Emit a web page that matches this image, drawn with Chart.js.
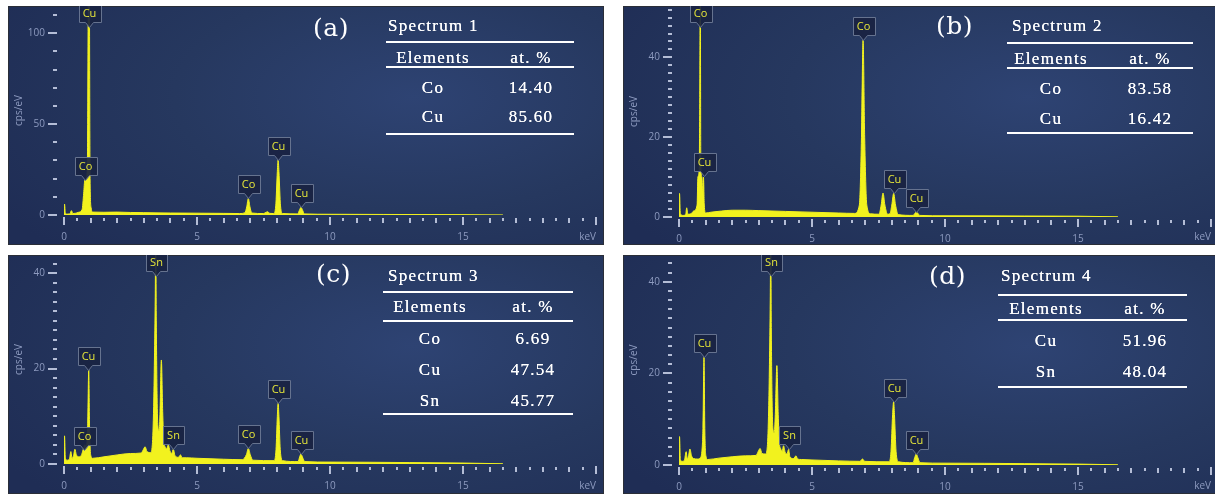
<!DOCTYPE html>
<html lang="en">
<head>
<meta charset="UTF-8">
<title>EDS spectra</title>
<script src="https://cdn.jsdelivr.net/npm/chart.js"></script>
<style>
    body {
        margin: 0;
        background: #ffffff;
        width: 1215px;
        height: 494px;
        overflow: hidden;
        position: relative;
    }

    .panel {
        position: absolute;
        width: 596px;
        height: 239px;
        overflow: hidden;
        background: radial-gradient(ellipse 80% 95% at 68% 38%, #2e4373 0%, #26385f 50%, #1f2d55 100%);
        box-shadow: inset 0 0 0 1px #2a2e38;
    }

    .panel canvas {
        position: absolute;
        left: 0;
        top: 0;
    }

    .tag {
        position: absolute;
        font-family: 'DejaVu Serif', serif;
        font-size: 25px;
        letter-spacing: 0.5px;
        line-height: 1;
        color: #ffffff;
        transform: translateY(-50%);
    }

    .cell {
        position: absolute;
        font-family: 'Liberation Serif', serif;
        font-size: 17px;
        letter-spacing: 1.3px;
        line-height: 18px;
        color: #ffffff;
        text-shadow: 0 0 0.6px #ffffff;
        white-space: pre;
        transform: translate(-50%, -50%);
    }

    .rule {
        position: absolute;
        height: 2px;
        background: #ffffff;
    }
</style>
</head>
<body>

<div class="panel" id="pa" style="left:8px; top:6px"><canvas id="ca" width="596" height="239"></canvas></div>
<div class="panel" id="pb" style="left:623px; top:6px"><canvas id="cb" width="596" height="239"></canvas></div>
<div class="panel" id="pc" style="left:8px; top:255px"><canvas id="cc" width="596" height="239"></canvas></div>
<div class="panel" id="pd" style="left:623px; top:255px"><canvas id="cd" width="596" height="239"></canvas></div>

<script>
    // ---- spectrum (a) ----
    const keV_a = [0, 0.02, 0.05, 0.12, 0.22, 0.28, 0.33, 0.45, 0.55, 0.68, 0.74, 0.78, 0.84, 0.88, 0.92, 0.95, 0.98, 1.02, 1.08,
        1.5, 2.0, 2.5, 3.0, 4.0, 5.0, 6.0, 6.6, 6.8, 6.87, 6.93, 6.99, 7.06, 7.5, 7.6, 7.66, 7.73, 7.88, 7.96, 8.02, 8.05, 8.08, 8.14, 8.22,
        8.78, 8.85, 8.91, 8.97, 9.04, 10, 12, 15, 16.5];
    const cps_a = [0, 6, 1.0, 0.5, 0.6, 2.4, 0.8, 1.0, 1.5, 3, 12, 19, 20, 30, 130, 130, 20, 4, 1.6,
        1.5, 1.6, 1.4, 1.3, 1.1, 1.0, 0.9, 0.8, 1.2, 4.5, 9.2, 4.5, 1.1, 0.8, 1.5, 1.8, 0.9, 0.8, 5, 24, 30.3, 24, 5, 0.8,
        0.6, 2.6, 4.2, 2.6, 0.6, 0.4, 0.3, 0.2, 0.05];

    // ---- spectrum (b) ----
    const keV_b = [0, 0.02, 0.05, 0.15, 0.25, 0.29, 0.33, 0.45, 0.55, 0.68, 0.71, 0.76, 0.78, 0.80, 0.82, 0.86, 0.89, 0.92, 0.95, 1.0,
        1.2, 1.6, 2.0, 2.5, 3.0, 4.0, 5.0, 6.0, 6.6, 6.78, 6.86, 6.92, 6.98, 7.06, 7.2, 7.52, 7.6, 7.67, 7.74, 7.84, 7.93, 8.0, 8.07, 8.14, 8.24,
        8.8, 8.88, 8.92, 8.97, 9.05, 10, 13, 15, 16.5];
    const cps_b = [0, 5.9, 0.8, 0.4, 0.6, 2.3, 0.7, 0.8, 1.5, 3, 10, 12, 30, 60, 14, 10, 6, 10, 3, 1.0,
        1.2, 1.5, 1.7, 1.7, 1.6, 1.4, 1.2, 1.0, 0.9, 3, 20, 44.3, 20, 3, 0.8, 0.7, 3, 6.0, 3, 0.7, 0.8, 3, 5.9, 3, 0.6,
        0.4, 1.0, 1.25, 1.0, 0.4, 0.3, 0.25, 0.2, 0.05];

    // ---- spectrum (c) ----
    const keV_c = [0, 0.02, 0.05, 0.12, 0.2, 0.26, 0.3, 0.36, 0.41, 0.46, 0.55, 0.65, 0.72, 0.78, 0.84, 0.89, 0.93, 0.96, 1.0, 1.08,
        1.5, 2.0, 2.5, 2.9, 2.98, 3.05, 3.12, 3.25, 3.32, 3.37, 3.40, 3.43, 3.45, 3.47, 3.50, 3.53, 3.58, 3.61, 3.66, 3.71, 3.75, 3.80,
        3.86, 3.92, 3.98, 4.05, 4.11, 4.17, 4.3, 4.38, 4.45, 4.6, 5, 6, 6.7, 6.86, 6.93, 7.0, 7.1, 7.9, 7.97, 8.02, 8.05, 8.08, 8.13, 8.22,
        8.8, 8.86, 8.91, 8.96, 9.05, 10, 13, 15, 16.5];
    const cps_c = [0, 5.9, 1.2, 0.8, 1.0, 2.6, 1.2, 1.8, 3.1, 2.0, 1.5, 1.8, 3, 4.0, 3.8, 8, 19.7, 8, 2, 1.2,
        1.5, 1.9, 2.2, 2.3, 3, 3.6, 2.6, 2.4, 4, 12, 22, 35, 48, 30, 14, 8, 7, 11, 21.8, 11, 5, 3.6,
        3.2, 4, 2.8, 2.2, 3.1, 1.8, 1.4, 1.9, 1.3, 1.3, 1.2, 1.0, 0.9, 2, 3.3, 2, 0.8, 0.7, 3, 10, 12.7, 10, 3, 0.7,
        0.5, 1.5, 2.1, 1.5, 0.5, 0.4, 0.3, 0.2, 0.05];

    // ---- spectrum (d) ----
    const keV_d = [0, 0.02, 0.05, 0.12, 0.2, 0.27, 0.31, 0.36, 0.41, 0.47, 0.55, 0.7, 0.8, 0.86, 0.9, 0.94, 0.97, 1.01, 1.08,
        1.5, 2.0, 2.5, 2.9, 2.98, 3.05, 3.12, 3.25, 3.32, 3.37, 3.40, 3.43, 3.45, 3.47, 3.50, 3.53, 3.58, 3.62, 3.68, 3.73, 3.77, 3.82,
        3.88, 3.93, 3.99, 4.06, 4.12, 4.17, 4.3, 4.4, 4.46, 4.6, 5, 6, 6.8, 6.9, 6.98, 7.9, 7.97, 8.03, 8.07, 8.1, 8.16, 8.25,
        8.8, 8.86, 8.92, 8.98, 9.06, 10, 13, 15, 16.5];
    const cps_d = [0, 6.2, 1.2, 0.8, 1.0, 2.9, 1.3, 2.0, 3.5, 2.0, 1.4, 1.3, 1.6, 3, 8, 23.5, 8, 2, 1.2,
        1.5, 1.8, 2.0, 2.1, 3, 3.6, 2.5, 2.4, 4, 12, 22, 36, 50, 30, 14, 8, 7, 11, 21.7, 11, 5, 3.6,
        3, 4.2, 2.8, 2.4, 3.4, 1.8, 1.4, 2.0, 1.3, 1.2, 1.1, 0.9, 0.8, 1.3, 0.8, 0.7, 3, 11, 13.8, 11, 3, 0.7,
        0.5, 1.6, 2.4, 1.6, 0.5, 0.4, 0.3, 0.2, 0.05];

    // ---- peak tags ----
    const tagName_a = ['Cu', 'Co', 'Co', 'Cu', 'Cu'];
    const tagKeV_a = [0.94, 0.79, 6.93, 8.05, 8.91];
    const tagCps_a = [130, 19, 9.2, 30.3, 4.2];

    const tagName_b = ['Co', 'Cu', 'Co', 'Cu', 'Cu'];
    const tagKeV_b = [0.80, 0.94, 6.92, 8.07, 8.92];
    const tagCps_b = [60, 10.2, 44.3, 5.9, 1.25];

    const tagName_c = ['Sn', 'Cu', 'Co', 'Sn', 'Co', 'Cu', 'Cu'];
    const tagKeV_c = [3.45, 0.91, 0.76, 4.11, 6.93, 8.05, 8.91];
    const tagCps_c = [48, 19.7, 2.9, 3.1, 3.3, 12.7, 2.1];

    const tagName_d = ['Sn', 'Cu', 'Sn', 'Cu', 'Cu'];
    const tagKeV_d = [3.45, 0.94, 4.12, 8.07, 8.92];
    const tagCps_d = [50, 23.5, 3.5, 13.8, 2.4];

    // ---- axes ----
    const xTickLabels = [0, 5, 10, 15];
    const yTickLabels_a = [0, 50, 100];
    const yTickLabels_bcd = [0, 20, 40];

    // ---- tables ----
    const title_a = 'Spectrum 1', elem_a = ['Co', 'Cu'], atp_a = ['14.40', '85.60'];
    const title_b = 'Spectrum 2', elem_b = ['Co', 'Cu'], atp_b = ['83.58', '16.42'];
    const title_c = 'Spectrum 3', elem_c = ['Co', 'Cu', 'Sn'], atp_c = ['6.69', '47.54', '45.77'];
    const title_d = 'Spectrum 4', elem_d = ['Cu', 'Sn'], atp_d = ['51.96', '48.04'];

    const yellow = '#f2f21e';
    const tickCol = '#8d9abf';

    // tick marks along both axes
    const axisMarks = {
        id: 'axisMarks',
        afterDraw(chart, args, o) {
            const {ctx, chartArea: a, scales: {x, y}} = chart;
            ctx.save();
            ctx.fillStyle = '#b4bdd6';
            for (let v = 0; v <= 20; v += 0.5) {
                const px = Math.round(x.getPixelForValue(v)) - 1;
                const big = v % 5 === 0, whole = v % 1 === 0;
                ctx.fillRect(px, a.bottom + (big ? 2 : 3), 2, big ? 8 : (whole ? 5 : 3));
            }
            for (let v = 0; v <= y.max; v += o.step) {
                const py = Math.round(y.getPixelForValue(v)) - 1;
                const major = o.labels.includes(v);
                ctx.fillRect(a.left - (major ? 16 : 11), py, major ? 9 : 4, 2);
            }
            ctx.restore();
        }
    };

    // element call-outs above the peaks
    const peakTags = {
        id: 'peakTags',
        afterDatasetsDraw(chart, args, o) {
            const {ctx, chartArea: a, scales: {x, y}} = chart;
            ctx.save();
            ctx.font = '11px "Open Sans"';
            o.names.forEach((name, i) => {
                const cx = Math.round(x.getPixelForValue(o.kev[i])) + 0.5;
                let tip = y.getPixelForValue(Math.min(o.cps[i], y.max));
                let top = Math.round(tip - 23) + 0.5;
                if (top < a.top - 1) top = a.top - 1.5;
                tip = top + 23;
                const w = Math.round(ctx.measureText(name).width) + 8, h = 18;
                const l = Math.round(cx - w / 2) + 0.5;
                ctx.beginPath();
                ctx.moveTo(l, top);
                ctx.lineTo(l + w, top);
                ctx.lineTo(l + w, top + h);
                ctx.lineTo(cx + 4, top + h);
                ctx.lineTo(cx, tip);
                ctx.lineTo(cx - 4, top + h);
                ctx.lineTo(l, top + h);
                ctx.closePath();
                ctx.fillStyle = 'rgba(25, 35, 66, 0.92)';
                ctx.fill();
                ctx.strokeStyle = '#66738f';
                ctx.lineWidth = 1;
                ctx.stroke();
                ctx.fillStyle = '#e6e63a';
                ctx.textAlign = 'center';
                ctx.textBaseline = 'middle';
                ctx.fillText(name, cx, top + h / 2 + 0.5);
            });
            ctx.restore();
        }
    };

    const panels = [
        {canvas: 'ca', el: 'pa', keV: keV_a, cps: cps_a, yMax: 115, step: 10, yLabels: yTickLabels_a, xH: 30,
            names: tagName_a, kev: tagKeV_a, tcps: tagCps_a,
            tag: '(a)', tagX: 305, tagY: 21,
            title: title_a, elem: elem_a, atp: atp_a,
            t: {tx: 380, ty: 20, x0: 378, w: 188, r1: 36, hy: 52, r2: 61, rows: [82, 111], r3: 128, ce: 425, cv: 523}},
        {canvas: 'cb', el: 'pb', keV: keV_b, cps: cps_b, yMax: 52.9, step: 2, yLabels: yTickLabels_bcd, xH: 28,
            names: tagName_b, kev: tagKeV_b, tcps: tagCps_b,
            tag: '(b)', tagX: 313, tagY: 19,
            title: title_b, elem: elem_b, atp: atp_b,
            t: {tx: 389, ty: 20, x0: 384, w: 186, r1: 37, hy: 53, r2: 62, rows: [82.5, 112.5], r3: 127, ce: 428, cv: 527}},
        {canvas: 'cc', el: 'pc', keV: keV_c, cps: cps_c, yMax: 43.8, step: 2, yLabels: yTickLabels_bcd, xH: 30,
            names: tagName_c, kev: tagKeV_c, tcps: tagCps_c,
            tag: '(c)', tagX: 308, tagY: 18,
            title: title_c, elem: elem_c, atp: atp_c,
            t: {tx: 380, ty: 21, x0: 375, w: 190, r1: 37, hy: 52, r2: 66, rows: [84, 115, 146], r3: 159, ce: 422, cv: 525}},
        {canvas: 'cd', el: 'pd', keV: keV_d, cps: cps_d, yMax: 45.85, step: 2, yLabels: yTickLabels_bcd, xH: 29,
            names: tagName_d, kev: tagKeV_d, tcps: tagCps_d,
            tag: '(d)', tagX: 306, tagY: 20,
            title: title_d, elem: elem_d, atp: atp_d,
            t: {tx: 378, ty: 21, x0: 375, w: 189, r1: 40, hy: 54, r2: 65, rows: [86, 117], r3: 132, ce: 423, cv: 522}}
    ];

    function put(parent, cls, text, x, y, extra) {
        const d = document.createElement('div');
        d.className = cls;
        d.textContent = text;
        d.style.left = x + 'px';
        d.style.top = y + 'px';
        if (extra) Object.assign(d.style, extra);
        parent.appendChild(d);
        return d;
    }

    panels.forEach(p => {
        const box = document.getElementById(p.el);

        new Chart(document.getElementById(p.canvas), {
            type: 'line',
            data: {
                datasets: [{
                    data: p.keV.map((k, i) => ({x: k, y: p.cps[i]})),
                    borderColor: yellow,
                    backgroundColor: yellow,
                    borderWidth: 1,
                    fill: 'origin',
                    pointRadius: 0,
                    cubicInterpolationMode: 'monotone'
                }]
            },
            options: {
                responsive: false,
                animation: false,
                devicePixelRatio: 1,
                layout: {padding: {left: 0, right: 8, top: 0, bottom: 0}},
                plugins: {
                    legend: {display: false},
                    tooltip: {enabled: false},
                    axisMarks: {step: p.step, labels: p.yLabels},
                    peakTags: {names: p.names, kev: p.kev, cps: p.tcps}
                },
                scales: {
                    x: {
                        type: 'linear', min: 0, max: 20,
                        grid: {display: false, drawTicks: false},
                        border: {display: false},
                        ticks: {color: tickCol, font: {family: 'Open Sans', size: 10}, padding: 16, maxRotation: 0, autoSkip: false},
                        title: {display: true, text: 'keV', align: 'end', color: tickCol, font: {family: 'Open Sans', size: 10}, padding: {top: 0, bottom: 2}},
                        afterBuildTicks: s => { s.ticks = xTickLabels.map(v => ({value: v})); },
                        afterFit: s => { s.height = p.xH; s.paddingLeft = 0; s.paddingRight = 0; }
                    },
                    y: {
                        min: 0, max: p.yMax,
                        grid: {display: false, drawTicks: false},
                        border: {display: false},
                        ticks: {color: tickCol, font: {family: 'Open Sans', size: 10}, padding: 19},
                        title: {display: true, text: 'cps/eV', color: tickCol, font: {family: 'Open Sans', size: 10}, padding: {top: 5, bottom: 0}},
                        afterBuildTicks: s => { s.ticks = p.yLabels.map(v => ({value: v})); },
                        afterFit: s => { s.width = 56; s.paddingTop = 0; s.paddingBottom = 0; }
                    }
                }
            },
            plugins: [axisMarks, peakTags]
        });

        // panel letter
        put(box, 'tag', p.tag, p.tagX, p.tagY);

        // composition table
        const t = p.t;
        put(box, 'cell', p.title, t.tx, t.ty, {transform: 'translateY(-50%)'});
        put(box, 'rule', '', t.x0, t.r1 - 1, {width: t.w + 'px'});
        put(box, 'cell', 'Elements', t.ce, t.hy);
        put(box, 'cell', 'at. %', t.cv, t.hy);
        put(box, 'rule', '', t.x0, t.r2 - 1, {width: t.w + 'px'});
        p.elem.forEach((e, i) => {
            put(box, 'cell', e, t.ce, t.rows[i]);
            put(box, 'cell', p.atp[i], t.cv, t.rows[i]);
        });
        put(box, 'rule', '', t.x0, t.r3 - 1, {width: t.w + 'px'});
    });
</script>
</body>
</html>
